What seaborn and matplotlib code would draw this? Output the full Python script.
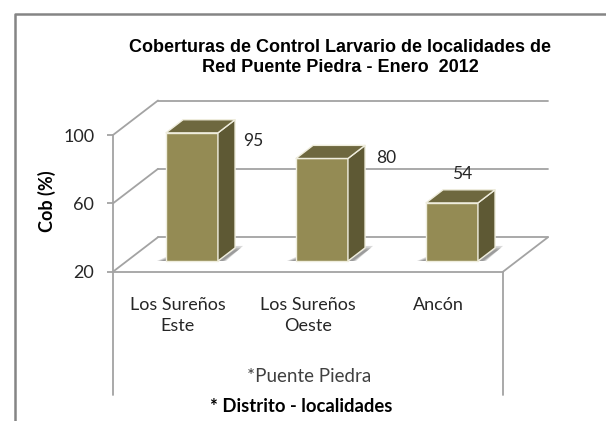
import matplotlib
matplotlib.use("Agg")
import matplotlib.pyplot as plt
from matplotlib.lines import Line2D
from matplotlib.patches import Polygon
from matplotlib.transforms import Affine2D
import seaborn as sns

categories = ["Los Sureños\nEste", "Los Sureños\nOeste", "Ancón"]
coverage = [95, 80, 54]
y_ticks = [20, 60, 100]
title_lines = ["Coberturas de Control Larvario de localidades de", "Red Puente Piedra - Enero  2012"]
y_label = "Cob (%)"
sub_label = "*Puente Piedra"
x_label = "* Distrito - localidades"

W, H = 606, 421
FRONT, SIDE, TOP, EDGE, GRID = "#948B54", "#5E5934", "#6E683F", "#EFEDDD", "#A3A3A3"
FONT = "Lato"
TXT = "#262626"
DEPTH = (45, 34.5)
NEAR, FAR = 0.31, 0.69
BASE = 20

sns.set_theme(style="white")
fig = plt.figure(figsize=(W / 100, H / 100), dpi=100, facecolor="white")
ax = fig.add_axes([113 / W, (H - 271.7) / H, 390 / W, (271.7 - 135) / H])
ax.patch.set_alpha(0)

sns.barplot(x=categories, y=coverage, color=FRONT, saturation=1, width=0.4,
            ax=ax, zorder=3, edgecolor=EDGE, linewidth=1.0)
ax.set_xlim(-0.5, 2.5)
ax.set_ylim(BASE, 100)


def shift(frac):
    return ax.transData + Affine2D().translate(DEPTH[0] * frac, DEPTH[1] * frac)


# walls and floor
back = shift(1)
for t in y_ticks:
    ax.plot([-0.5, 2.5], [t, t], color=GRID, lw=1.3, transform=back, clip_on=False, zorder=1)
    p0 = ax.transData.transform((-0.5, t))
    fig.add_artist(Line2D([p0[0] / W, (p0[0] + DEPTH[0]) / W],
                          [p0[1] / H, (p0[1] + DEPTH[1]) / H], color=GRID, lw=1.3, zorder=1))
pr = ax.transData.transform((2.5, BASE))
fig.add_artist(Line2D([pr[0] / W, (pr[0] + DEPTH[0]) / W],
                      [pr[1] / H, (pr[1] + DEPTH[1]) / H], color=GRID, lw=1.3, zorder=1))
# the lower extension of the category axis
for xp in (113, 503):
    fig.add_artist(Line2D([xp / W, xp / W], [(H - 395) / H, (H - 271.7) / H], color=GRID, lw=1.3))

# outer frame
fig.add_artist(Line2D([14.5 / W, 14.5 / W, 1], [0, (H - 14) / H, (H - 14) / H], color="#858585", lw=1.8))

# 3-D faces built from the bars seaborn drew
front = shift(NEAR)
d = (FAR - NEAR)
dx, dy = DEPTH[0] * d, DEPTH[1] * d
for patch, val in zip(ax.patches[:3], coverage):
    x0, w = patch.get_x(), patch.get_width()
    patch.set_y(BASE)
    patch.set_height(val - BASE)
    patch.set_transform(front)
    patch.set_clip_on(False)
    (xl, yb) = front.transform((x0, BASE))
    (xr, yt) = front.transform((x0 + w, val))
    side_pts = [(xr, yb), (xr + dx, yb + dy), (xr + dx, yt + dy), (xr, yt)]
    top_pts = [(xl, yt), (xl + dx, yt + dy), (xr + dx, yt + dy), (xr, yt)]
    for a, grow in ((0.22, 1.0), (0.26, 0.75), (0.30, 0.5)):
        ax.add_patch(Polygon([(xr, yb), (xr + 2 + 6 * grow, yb), (xr + dx + 8 * grow, yb + dy * (0.6 + 0.55 * grow)),
                              (xr + dx, yb + dy * (0.6 + 0.55 * grow))],
                             transform=None, fc="#5A5A5A", ec="none", alpha=a, zorder=2, clip_on=False))
        ax.add_patch(Polygon([(xl - 9 * grow, yb), (xl, yb), (xl, yb + 3 * grow + 1)],
                             transform=None, fc="#5A5A5A", ec="none", alpha=a, zorder=2, clip_on=False))
    for pts, col in ((side_pts, SIDE), (top_pts, TOP)):
        ax.add_patch(Polygon(pts, transform=None, fc=col, ec=EDGE, lw=1.0, zorder=3, clip_on=False,
                             joinstyle="round"))

# data labels, placed by hand in the original
label_offsets = [(61, -8), (64, 0), (10, 29)]
for i, (val, off) in enumerate(zip(coverage, label_offsets)):
    ax.annotate(str(val), xy=(i, val), xycoords=front, xytext=off, textcoords="offset pixels",
                ha="center", va="center", fontsize=12.5, family=FONT, color=TXT, zorder=6,
                annotation_clip=False)

# axes styling
sns.despine(ax=ax, top=True, right=True)
for s in ("left", "bottom"):
    ax.spines[s].set_color(GRID)
    ax.spines[s].set_linewidth(1.3)
ax.set_yticks(y_ticks)
ax.set_yticklabels([str(t) for t in y_ticks], family=FONT, fontsize=13, color=TXT)
ax.tick_params(axis="y", left=True, length=4.5, width=1.3, color=GRID, pad=9)
ax.tick_params(axis="x", bottom=False, pad=12)
for lab in ax.get_xticklabels():
    lab.set(family=FONT, fontsize=13, color=TXT, linespacing=1.42)
ax.set_xlabel("")
ax.set_ylabel("")

fig.text(47 / W, 1 - 201 / H, y_label, rotation=90, ha="center", va="center",
         family=FONT, fontweight="bold", fontsize=13, color="black")
for line, yp in zip(title_lines, (47, 67)):
    fig.text(340 / W, 1 - yp / H, line, ha="center", va="center", family="Liberation Sans",
             fontweight="bold", fontsize=13, color="black")
fig.text(309.5 / W, 1 - 377 / H, sub_label, ha="center", va="center", family=FONT, fontsize=13.5, color="#404040")
fig.text(301.5 / W, 1 - 407 / H, x_label, ha="center", va="center", family=FONT,
         fontweight="bold", fontsize=13.3, color="black")

fig.savefig("out.png", dpi=100, facecolor="white")
